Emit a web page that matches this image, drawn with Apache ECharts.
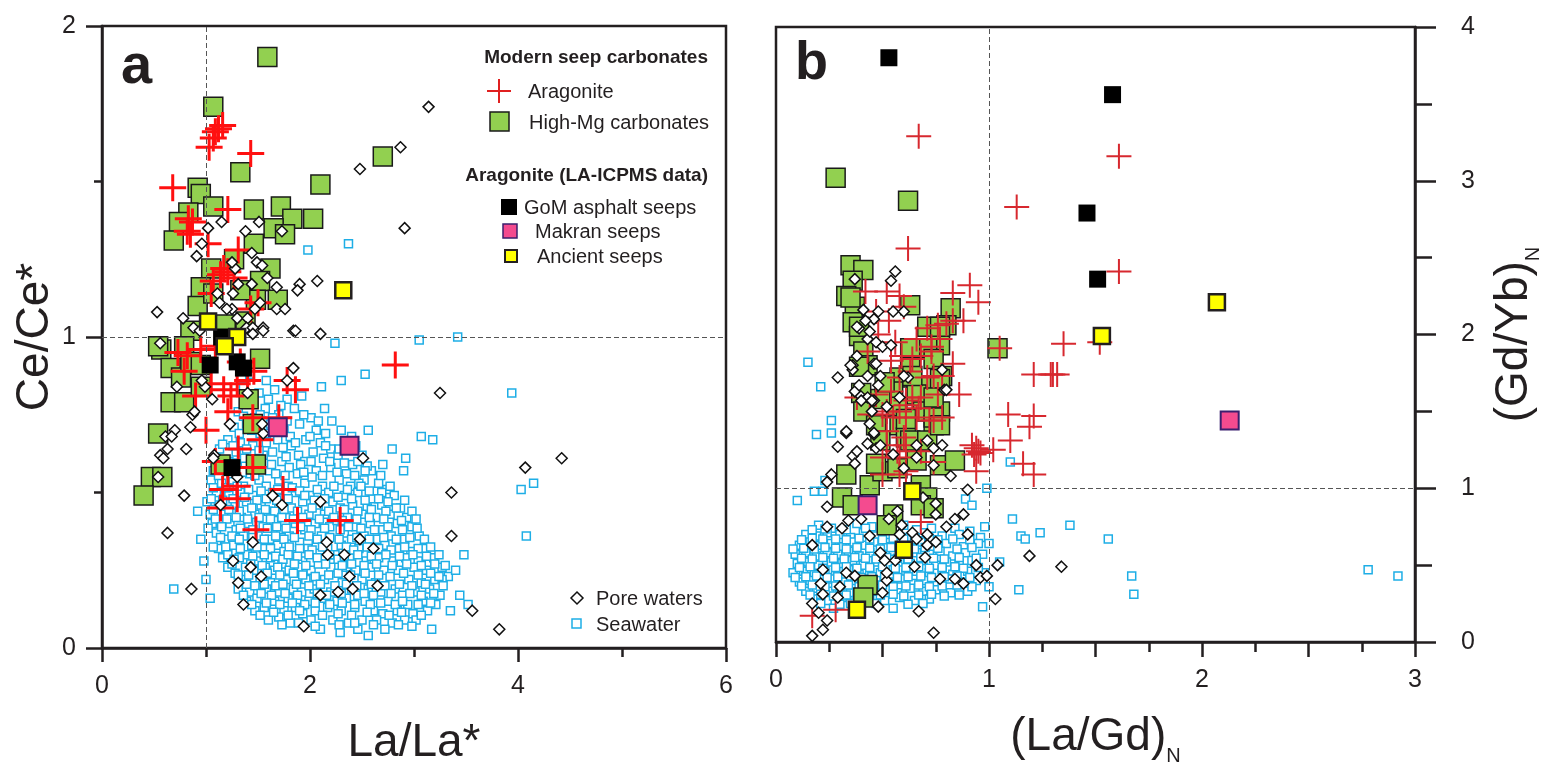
<!DOCTYPE html>
<html>
<head>
<meta charset="utf-8">
<title>Ce/Ce* vs La/La* and (Gd/Yb)N vs (La/Gd)N</title>
<script src="https://cdn.jsdelivr.net/npm/echarts@6/dist/echarts.min.js"></script>
<style>
  html, body { margin: 0; padding: 0; background: #fff; }
  #chart { width: 1545px; height: 771px; }
</style>
</head>
<body>
<div id="chart"></div>
<script>
// ---- panel a: La/La* (x) vs Ce/Ce* (y) ----
const seawaterA = [
  [1.42,0.88],[1.58,0.86],[1.36,0.84],[1.51,0.82],[1.66,0.83],[1.44,0.79],[1.78,0.80],[1.92,0.81],
  [1.31,0.76],[1.57,0.77],[1.70,0.75],[1.85,0.77],[2.01,0.74],[1.47,0.74],[2.14,0.77],
  [1.27,0.71],[1.39,0.72],[1.62,0.72],[1.75,0.70],[1.90,0.72],[2.06,0.70],[2.21,0.73],[1.52,0.69],[2.30,0.70],[2.56,0.70],
  [1.21,0.67],[1.33,0.66],[1.45,0.65],[1.58,0.66],[1.69,0.67],[1.82,0.65],[1.96,0.67],[2.10,0.66],[2.20,0.64],[2.35,0.66],
  [1.13,0.64],[1.29,0.63],[1.64,0.63],[1.89,0.62],[2.03,0.63],
  [1.10,0.61],[1.22,0.60],[1.37,0.61],[1.48,0.59],[1.55,0.62],[1.73,0.60],[1.80,0.58],[1.95,0.60],[2.13,0.61],[2.27,0.62],
  [2.41,0.59],[2.50,0.62],[1.07,0.57],[1.18,0.57],[1.30,0.58],[1.42,0.56],[1.61,0.57],[1.88,0.56],[2.06,0.57],[2.20,0.58],
  [2.35,0.56],[2.59,0.57],
  [1.05,0.54],[1.15,0.53],[1.26,0.54],[1.36,0.52],[1.51,0.54],[1.58,0.52],[1.70,0.54],[1.79,0.52],[1.95,0.53],[2.02,0.55],
  [2.12,0.52],[2.28,0.54],[2.39,0.52],[2.52,0.54],[2.66,0.53],[2.74,0.51],[1.10,0.50],[1.22,0.49],[1.33,0.50],[1.45,0.49],
  [1.64,0.50],[1.74,0.48],[1.86,0.50],[2.00,0.49],[2.18,0.50],[2.33,0.49],[2.46,0.50],[2.60,0.48],[2.81,0.49],
  [1.01,0.47],[1.12,0.46],[1.28,0.46],[1.39,0.47],[1.53,0.46],[1.60,0.44],[1.70,0.46],[1.82,0.45],[1.93,0.47],[2.08,0.46],
  [2.22,0.47],[2.29,0.45],[2.41,0.46],[2.55,0.45],[2.69,0.46],[2.87,0.45],[1.04,0.43],[1.17,0.43],[1.34,0.42],[1.47,0.43],
  [1.77,0.42],[1.99,0.43],[2.14,0.43],[2.36,0.42],[2.50,0.43],[2.63,0.42],[2.77,0.43],[2.93,0.42],
  [1.06,0.40],[1.23,0.40],[1.29,0.38],[1.41,0.40],[1.55,0.39],[1.65,0.41],[1.72,0.38],[1.86,0.40],[1.95,0.38],[2.05,0.40],
  [2.19,0.39],[2.26,0.41],[2.44,0.39],[2.58,0.40],[2.70,0.38],[2.84,0.40],[2.98,0.39],[1.10,0.37],[1.18,0.35],[1.36,0.36],
  [1.50,0.36],[1.61,0.35],[1.80,0.36],[1.90,0.34],[2.11,0.36],[2.33,0.37],[2.40,0.35],[2.52,0.36],[2.65,0.35],[2.78,0.36],
  [2.91,0.35],[3.05,0.36],
  [1.12,0.32],[1.26,0.33],[1.44,0.33],[1.55,0.32],[1.69,0.33],[1.75,0.31],[1.98,0.32],[2.06,0.33],[2.17,0.32],[2.24,0.30],
  [2.30,0.33],[2.47,0.32],[2.60,0.31],[2.72,0.33],[2.86,0.32],[2.97,0.31],[3.10,0.32],[1.16,0.29],[1.32,0.29],[1.40,0.30],
  [1.50,0.28],[1.62,0.29],[1.84,0.30],[1.93,0.28],[2.12,0.29],[2.38,0.29],[2.54,0.28],[2.66,0.29],[2.80,0.28],[2.92,0.29],
  [3.04,0.28],[3.19,0.29],
  [1.21,0.26],[1.28,0.24],[1.38,0.26],[1.46,0.25],[1.57,0.26],[1.66,0.25],[1.73,0.27],[1.80,0.25],[1.89,0.26],[2.01,0.25],
  [2.08,0.27],[2.20,0.26],[2.27,0.24],[2.35,0.26],[2.44,0.25],[2.58,0.26],[2.71,0.25],[2.77,0.23],[2.85,0.25],[3.00,0.26],
  [3.12,0.25],[3.27,0.26],[1.35,0.22],[1.52,0.22],[1.62,0.21],[1.77,0.22],[1.96,0.22],[2.14,0.22],[2.31,0.21],[2.50,0.22],
  [2.63,0.21],[2.95,0.22],[3.07,0.21],[3.20,0.22],[3.33,0.23],
  [1.31,0.19],[1.42,0.18],[1.58,0.19],[1.70,0.18],[1.84,0.19],[1.92,0.18],[2.04,0.19],[2.20,0.18],[2.40,0.19],[2.46,0.17],
  [2.56,0.19],[2.68,0.18],[2.82,0.19],[2.89,0.17],[3.01,0.18],[3.15,0.19],[3.25,0.17],[1.39,0.15],[1.49,0.16],[1.66,0.15],
  [1.79,0.16],[1.99,0.15],[2.11,0.16],[2.26,0.15],[2.35,0.16],[2.53,0.15],[2.75,0.15],[2.94,0.14],[3.09,0.15],[3.21,0.14],
  [1.47,0.12],[1.56,0.13],[1.75,0.12],[1.86,0.13],[1.93,0.11],[2.05,0.12],[2.17,0.13],[2.30,0.12],[2.43,0.13],[2.61,0.12],
  [2.70,0.11],[2.84,0.12],[2.99,0.11],[3.13,0.12],[1.60,0.09],[1.70,0.10],[1.81,0.08],[2.01,0.09],[2.22,0.09],[2.37,0.08],
  [2.50,0.09],[2.64,0.09],[2.79,0.08],[2.91,0.09],[3.02,0.09],
  [2.10,0.06],[2.29,0.05],[2.46,0.06],[2.56,0.04],[2.72,0.06],
  [0.69,0.19],[0.95,0.35],[0.92,0.44],[1.00,0.22],[1.04,0.16],[0.98,0.28],
  [1.98,1.28],[2.37,1.30],[2.24,0.98],[3.05,0.99],[3.42,1.00],[2.53,0.88],[2.30,0.86],[2.11,0.84],[3.94,0.82],
  [3.07,0.68],[3.18,0.67],[2.92,0.61],[2.90,0.57],[4.03,0.51],[4.15,0.53],[4.08,0.36],[3.48,0.30],[3.44,0.17],
  [3.52,0.14],[3.17,0.06],[3.27,0.22],[2.79,0.64],[2.70,0.59],[2.47,0.53],[3.40,0.25],[3.35,0.12],
  // in-between readings of the dense cloud
  [1.38,0.80],[1.60,0.80],[1.72,0.78],
  [1.36,0.745],[1.52,0.75],[1.64,0.74],[1.78,0.73],[1.94,0.75],[2.08,0.73],
  [1.32,0.69],[1.44,0.70],[1.58,0.69],[1.68,0.70],[1.81,0.68],[2.00,0.68],[2.15,0.69],[2.40,0.68],
  [1.16,0.655],[1.26,0.65],[1.39,0.64],[1.51,0.635],[1.74,0.645],[1.86,0.66],[2.15,0.65],[2.28,0.64],[2.44,0.65],
  [1.14,0.59],[1.27,0.595],[1.43,0.60],[1.63,0.59],[1.77,0.615],[1.91,0.59],[2.01,0.60],[2.19,0.60],[2.33,0.595],
  [2.46,0.60],[2.55,0.585],
  [1.12,0.555],[1.24,0.56],[1.35,0.565],[1.47,0.555],[1.67,0.56],[1.76,0.555],[1.94,0.565],[2.12,0.555],[2.26,0.565],
  [2.43,0.555],[2.53,0.57],[2.68,0.555],
  [1.07,0.515],[1.19,0.515],[1.30,0.52],[1.41,0.51],[1.53,0.505],[1.69,0.51],[1.83,0.515],[1.90,0.505],[2.07,0.51],
  [2.23,0.52],[2.36,0.51],[2.49,0.52],[2.57,0.505],[2.69,0.50],[2.77,0.52],
  [1.05,0.48],[1.16,0.475],[1.26,0.48],[1.37,0.485],[1.49,0.475],[1.58,0.48],[1.68,0.475],[1.79,0.48],[1.95,0.49],
  [2.04,0.475],[2.14,0.48],[2.27,0.485],[2.40,0.48],[2.53,0.475],[2.66,0.48],[2.75,0.47],[2.91,0.475],
  [1.07,0.445],[1.22,0.445],[1.32,0.44],[1.44,0.45],[1.57,0.445],[1.66,0.44],[1.75,0.445],[1.88,0.44],[2.02,0.45],
  [2.18,0.44],[2.33,0.445],[2.46,0.44],[2.59,0.445],[2.73,0.44],[2.83,0.45],[2.98,0.44],
  [1.09,0.415],[1.20,0.415],[1.29,0.42],[1.40,0.415],[1.51,0.42],[1.62,0.415],[1.73,0.42],[1.84,0.415],[1.93,0.42],
  [2.09,0.415],[2.23,0.42],[2.31,0.41],[2.45,0.415],[2.57,0.42],[2.71,0.415],[2.88,0.41],[3.02,0.415],
  [1.02,0.385],[1.15,0.39],[1.33,0.385],[1.45,0.38],[1.59,0.385],[1.68,0.39],[1.77,0.385],[1.91,0.39],[2.01,0.38],
  [2.14,0.385],[2.29,0.38],[2.37,0.39],[2.49,0.385],[2.62,0.38],[2.75,0.39],[2.89,0.38],[3.03,0.385],
  [1.14,0.355],[1.25,0.36],[1.32,0.35],[1.45,0.355],[1.56,0.35],[1.67,0.36],[1.75,0.35],[1.85,0.355],[1.99,0.36],
  [2.07,0.35],[2.19,0.355],[2.28,0.35],[2.45,0.355],[2.57,0.35],[2.71,0.355],[2.83,0.35],[2.96,0.355],[3.10,0.35],
  [1.07,0.325],[1.19,0.325],[1.33,0.32],[1.49,0.325],[1.62,0.32],[1.80,0.325],[1.90,0.32],[2.02,0.315],[2.12,0.325],
  [2.35,0.325],[2.42,0.315],[2.55,0.325],[2.66,0.32],[2.78,0.315],[2.91,0.325],[3.04,0.32],[3.16,0.325],
  [1.21,0.30],[1.27,0.285],[1.45,0.295],[1.56,0.30],[1.67,0.295],[1.74,0.285],[1.79,0.30],[1.88,0.295],[1.99,0.30],
  [2.07,0.29],[2.19,0.30],[2.27,0.285],[2.33,0.295],[2.46,0.30],[2.59,0.295],[2.73,0.30],[2.86,0.295],[2.99,0.30],
  [3.12,0.295],[3.24,0.30],
  [1.25,0.27],[1.43,0.27],[1.54,0.265],[1.69,0.26],[1.85,0.27],[1.96,0.265],[2.15,0.27],[2.31,0.265],[2.40,0.27],
  [2.52,0.265],[2.64,0.27],[2.79,0.265],[2.93,0.27],[3.07,0.265],[3.20,0.27],[3.30,0.265],
  [1.31,0.235],[1.41,0.235],[1.59,0.24],[1.71,0.235],[1.84,0.24],[1.93,0.235],[2.05,0.23],[2.18,0.235],[2.39,0.235],
  [2.53,0.24],[2.66,0.235],[2.90,0.24],[3.04,0.235],[3.16,0.24],[3.24,0.23],
  [1.39,0.205],[1.47,0.20],[1.56,0.205],[1.67,0.20],[1.74,0.205],[1.87,0.205],[1.99,0.20],[2.10,0.205],[2.24,0.20],
  [2.35,0.205],[2.45,0.20],[2.59,0.205],[2.72,0.20],[2.86,0.205],[2.98,0.20],[3.11,0.205],[3.28,0.20],
  [1.36,0.17],[1.53,0.175],[1.63,0.17],[1.76,0.175],[1.88,0.17],[2.07,0.175],[2.16,0.17],[2.30,0.175],[2.52,0.175],
  [2.61,0.17],[2.78,0.175],[2.96,0.175],[3.07,0.17],[3.19,0.175],
  [1.44,0.14],[1.58,0.145],[1.71,0.14],[1.83,0.145],[1.95,0.14],[2.05,0.145],[2.19,0.14],[2.31,0.145],[2.43,0.14],
  [2.58,0.14],[2.68,0.145],[2.82,0.14],[2.89,0.15],[3.04,0.14],[3.16,0.145],
  [1.52,0.105],[1.65,0.115],[1.79,0.105],[1.90,0.12],[2.12,0.105],[2.27,0.11],[2.40,0.105],[2.55,0.115],[2.76,0.105],
  [2.88,0.115],[3.07,0.105],
  [1.73,0.075],[1.89,0.08],[2.05,0.07],[2.28,0.075],[2.43,0.08],[2.61,0.075],[2.85,0.075],[2.98,0.07]
];

const poreA = [
  [3.14,1.74],[2.87,1.61],[2.48,1.54],[2.91,1.35],[3.25,0.82],[4.42,0.61],[4.07,0.58],[3.36,0.50],[3.36,0.36],
  [3.56,0.12],[3.82,0.06],[0.53,1.08],[0.56,0.98],[1.84,1.02],[2.10,1.01],[1.84,0.90],[1.78,0.86],[0.72,0.84],
  [0.99,0.84],[1.06,0.80],[0.87,0.75],[0.89,0.76],[0.85,0.71],[0.70,0.70],[0.61,0.68],[0.67,0.68],[0.63,0.64],
  [0.56,0.62],[0.59,0.61],[0.81,0.64],[0.54,0.55],[0.79,0.49],[1.08,0.62],[1.30,0.55],[1.55,0.69],[1.54,0.72],
  [1.40,0.82],[2.51,0.61],[0.63,0.37],[1.14,0.46],[1.64,0.49],[1.73,0.46],[2.10,0.47],[1.45,0.34],[2.16,0.34],
  [2.48,0.35],[2.61,0.32],[2.17,0.30],[2.33,0.30],[1.26,0.28],[1.43,0.26],[1.53,0.23],[1.31,0.21],[2.38,0.23],
  [2.10,0.17],[2.27,0.18],[2.41,0.19],[2.65,0.20],[0.86,0.19],[1.36,0.14],[1.94,0.07],
  [1.15,1.37],[1.38,1.34],[1.51,1.37],[1.73,1.34],[1.02,1.35],[0.96,1.30],[0.91,1.26],[1.44,1.27],[1.49,1.24],
  [1.54,1.23],[1.59,1.19],[1.68,1.16],[1.28,1.22],[1.25,1.24],[1.31,1.17],[1.44,1.17],[1.47,1.09],[1.52,1.11],
  [1.68,1.09],[1.76,1.09],[1.90,1.17],[2.07,1.18],[1.88,1.15],[1.86,1.02],[0.78,1.06],[1.26,1.14],[1.25,1.09],
  [1.30,1.06],[1.40,1.06],[1.55,1.03],[1.11,1.14],[1.13,1.11],[1.20,1.09],[1.39,1.03],[1.45,1.03],[0.88,1.03],
  [0.94,1.02],[0.96,0.86],[1.23,0.72],[1.07,0.61],[1.45,1.01],[1.55,1.02]
];

const highMgA = [
  [1.59,1.90],[1.07,1.74],[1.33,1.53],[2.10,1.49],[2.70,1.58],[0.92,1.48],[0.95,1.46],[1.07,1.42],[0.83,1.40],
  [0.74,1.37],[0.69,1.31],[1.46,1.41],[1.72,1.42],[1.83,1.38],[2.03,1.38],[1.65,1.35],[1.76,1.33],[1.46,1.30],
  [1.62,1.22],[1.27,1.25],[1.05,1.22],[0.95,1.16],[1.52,1.18],[1.69,1.12],[0.92,1.10],[1.07,1.14],
  [1.19,1.04],[1.38,1.05],[0.85,1.02],[1.48,1.12],[1.33,1.15],
  [0.57,0.96],[0.66,0.90],[0.76,0.87],[0.54,0.97],[0.79,0.97],[0.85,0.92],[0.95,0.91],[1.52,0.93],[0.66,0.79],
  [0.79,0.79],[0.95,0.84],[1.41,0.80],[1.45,0.72],[0.54,0.69],[0.47,0.55],[0.58,0.55],[0.40,0.49],[1.14,0.59],
  [1.48,0.59]
];

const aragoniteA = [
  [1.12,1.67],[1.16,1.68],[1.09,1.66],[1.07,1.64],[1.03,1.61],[1.43,1.59],[0.68,1.48],[0.83,1.38],[0.87,1.37],
  [0.82,1.34],[0.85,1.33],[1.21,1.41],[1.02,1.30],[1.31,1.28],[1.17,1.22],[1.14,1.20],[1.07,1.18],[1.21,1.21],
  [1.27,1.19],[1.05,1.14],[1.50,1.11],[1.43,1.09],[2.82,0.91],[1.86,0.83],[1.78,0.86],[1.74,0.51],[1.88,0.41],
  [2.29,0.41],[1.48,0.38],[1.14,0.45],[1.30,0.48],[1.31,0.64],[1.52,0.67],[1.45,0.58],[0.79,0.89],[0.73,0.95],
  [0.82,0.94],[1.05,0.85],[1.17,0.83],[1.21,0.76],[1.24,0.81],[1.30,0.85],[1.40,0.86],[1.46,0.89],[1.45,0.74],
  [1.70,0.74],[1.21,0.56],[1.30,0.52],[0.95,0.96],[1.09,0.97],[1.33,0.92],[0.90,0.81],[1.00,0.70],[1.09,0.60],
  [1.16,0.51]
];

const gomA = [[1.04,0.91],[1.30,0.92],[1.25,0.58],[1.15,1.00],[1.36,0.90]];
const makranA = [[1.69,0.71],[2.38,0.65]];
const ancientA = [[1.02,1.05],[1.30,1.00],[1.18,0.97],[2.32,1.15]];

// ---- panel b: (La/Gd)N (x) vs (Gd/Yb)N (y) ----
const seawaterB = [
  [0.20,0.76],[0.26,0.74],[0.38,0.77],[0.45,0.75],[0.60,0.76],[0.84,0.74],
  [0.14,0.70],[0.19,0.69],[0.24,0.71],[0.30,0.70],[0.35,0.68],[0.41,0.71],[0.47,0.69],[0.53,0.70],[0.62,0.68],
  [0.69,0.71],[0.78,0.69],[0.86,0.70],[0.96,0.68],
  [0.11,0.63],[0.16,0.65],[0.21,0.63],[0.26,0.64],[0.31,0.62],[0.36,0.65],[0.42,0.63],[0.46,0.65],[0.52,0.62],
  [0.57,0.64],[0.63,0.62],[0.68,0.65],[0.74,0.62],[0.80,0.64],[0.88,0.62],[0.95,0.64],
  [0.09,0.57],[0.14,0.58],[0.19,0.56],[0.24,0.58],[0.29,0.57],[0.34,0.59],[0.39,0.56],[0.44,0.58],[0.50,0.57],
  [0.55,0.59],[0.60,0.56],[0.66,0.58],[0.72,0.57],[0.77,0.59],[0.83,0.56],[0.89,0.58],[0.97,0.57],
  [0.10,0.51],[0.15,0.52],[0.20,0.50],[0.26,0.52],[0.31,0.51],[0.36,0.53],[0.41,0.50],[0.47,0.52],[0.53,0.50],
  [0.58,0.52],[0.63,0.51],[0.69,0.53],[0.75,0.50],[0.80,0.52],[0.86,0.51],[0.92,0.53],
  [0.08,0.45],[0.13,0.46],[0.18,0.44],[0.23,0.46],[0.28,0.45],[0.34,0.47],[0.39,0.44],[0.44,0.46],[0.49,0.45],
  [0.55,0.47],[0.61,0.44],[0.66,0.46],[0.72,0.45],[0.78,0.47],[0.83,0.44],[0.90,0.46],[0.98,0.45],
  [0.11,0.39],[0.16,0.40],[0.21,0.38],[0.26,0.41],[0.32,0.39],[0.37,0.40],[0.42,0.38],[0.47,0.40],[0.53,0.39],
  [0.59,0.41],[0.64,0.38],[0.70,0.40],[0.75,0.39],[0.81,0.41],[0.87,0.39],[0.94,0.40],
  [0.14,0.33],[0.19,0.35],[0.25,0.33],[0.30,0.34],[0.35,0.32],[0.40,0.35],[0.46,0.33],[0.52,0.34],[0.57,0.32],
  [0.63,0.35],[0.69,0.33],[0.75,0.34],[0.82,0.32],[0.90,0.33],
  [0.18,0.28],[0.24,0.27],[0.31,0.29],[0.37,0.27],[0.44,0.28],[0.51,0.27],[0.58,0.29],[0.65,0.27],[0.72,0.28],
  [0.27,0.22],[0.40,0.21],[0.55,0.22],
  [0.15,1.82],[0.21,1.66],[0.26,1.44],[0.19,1.35],[0.26,1.36],[0.23,1.05],[0.18,0.98],[0.22,0.98],[0.99,1.00],
  [1.10,1.17],[0.89,0.93],[0.92,0.89],[1.11,0.80],[1.38,0.76],[1.56,0.67],[1.24,0.71],[1.15,0.69],[1.17,0.67],
  [1.00,0.64],[0.98,0.75],[1.05,0.52],[1.00,0.36],[0.97,0.23],[1.14,0.34],[1.67,0.43],[1.68,0.31],[2.78,0.47],
  [2.92,0.43],[0.10,0.92],
  // in-between readings of the dense cloud
  [0.17,0.73],[0.23,0.735],[0.33,0.73],[0.42,0.74],[0.51,0.73],[0.56,0.745],[0.66,0.73],[0.73,0.74],[0.91,0.72],
  [0.12,0.665],[0.17,0.675],[0.22,0.67],[0.28,0.67],[0.33,0.665],[0.39,0.675],[0.44,0.67],[0.50,0.665],[0.55,0.675],
  [0.60,0.67],[0.65,0.665],[0.72,0.675],[0.76,0.665],[0.83,0.67],[0.91,0.665],
  [0.08,0.605],[0.13,0.61],[0.18,0.605],[0.23,0.615],[0.28,0.61],[0.33,0.605],[0.38,0.615],[0.44,0.61],[0.49,0.605],
  [0.54,0.615],[0.60,0.61],[0.65,0.605],[0.70,0.615],[0.76,0.61],[0.85,0.605],[0.92,0.615],
  [0.12,0.545],[0.17,0.54],[0.22,0.55],[0.27,0.545],[0.32,0.54],[0.37,0.55],[0.42,0.545],[0.47,0.54],[0.52,0.55],
  [0.57,0.545],[0.62,0.54],[0.68,0.55],[0.74,0.545],[0.79,0.54],[0.86,0.55],[0.94,0.545],
  [0.11,0.485],[0.16,0.49],[0.22,0.48],[0.28,0.485],[0.33,0.49],[0.38,0.48],[0.44,0.485],[0.50,0.49],[0.56,0.48],
  [0.61,0.485],[0.67,0.49],[0.72,0.48],[0.78,0.485],[0.84,0.49],[0.88,0.48],[0.95,0.485],
  [0.09,0.42],[0.14,0.425],[0.19,0.43],[0.24,0.42],[0.29,0.425],[0.35,0.43],[0.40,0.42],[0.45,0.425],[0.51,0.43],
  [0.57,0.42],[0.62,0.425],[0.68,0.43],[0.73,0.42],[0.79,0.425],[0.85,0.43],[0.91,0.42],
  [0.12,0.365],[0.17,0.37],[0.23,0.36],[0.28,0.365],[0.34,0.37],[0.39,0.36],[0.44,0.365],[0.50,0.37],[0.55,0.36],
  [0.61,0.365],[0.67,0.37],[0.72,0.36],[0.78,0.365],[0.85,0.37],[0.92,0.36],
  [0.16,0.305],[0.21,0.31],[0.27,0.30],[0.33,0.305],[0.38,0.31],[0.43,0.30],[0.49,0.305],[0.55,0.31],[0.60,0.30],
  [0.67,0.305],[0.73,0.31],[0.79,0.30],[0.86,0.305],
  [0.21,0.25],[0.30,0.245],[0.35,0.25],[0.47,0.25],[0.62,0.245],[0.69,0.25]
];

const poreB = [
  [0.29,1.72],[0.33,1.36],[0.29,1.27],[0.36,1.21],[0.38,1.24],[0.37,1.16],[0.26,1.09],[0.24,1.04],[0.24,0.88],
  [0.24,0.75],[0.31,0.74],[0.34,0.79],[0.17,0.63],[0.22,0.47],[0.21,0.38],[0.22,0.31],[0.30,0.36],[0.33,0.45],
  [0.37,0.43],[0.29,0.29],[0.17,0.25],[0.20,0.19],[0.24,0.14],[0.22,0.08],[0.17,0.04],[0.48,0.23],[0.67,0.20],
  [0.74,0.06],[0.50,0.32],[0.52,0.40],[0.52,0.45],[0.49,0.58],[0.51,0.53],[0.44,0.69],[0.40,0.80],[0.53,0.80],
  [0.57,0.85],[0.59,0.76],[0.58,0.70],[0.64,0.71],[0.66,0.67],[0.71,0.63],[0.70,0.55],[0.71,0.70],[0.75,0.65],
  [0.65,0.49],[0.56,0.53],[0.77,0.41],[0.84,0.41],[0.88,0.38],[0.94,0.50],[0.96,0.42],[0.99,0.43],[1.04,0.50],
  [1.03,0.28],[1.19,0.56],[1.34,0.49],[0.90,0.70],[0.80,0.75],[0.88,0.83],[0.84,0.80],[0.75,0.83],[0.75,0.90],
  [0.69,0.94],[0.90,0.99],[0.82,1.08],[0.74,1.15],[0.78,1.28],[0.74,1.26],[0.71,1.31],[0.66,1.20],[0.60,1.13],
  [0.55,1.22],[0.47,1.26],[0.46,1.35],[0.44,1.42],[0.49,1.28],[0.43,1.59],[0.46,1.57],[0.39,1.61],[0.37,1.63],
  [0.36,1.80],[0.36,1.77],[0.39,1.67],[0.43,1.73],[0.46,1.81],[0.47,1.95],[0.43,1.97],[0.44,2.02],[0.39,2.04],
  [0.46,2.10],[0.48,2.15],[0.55,2.15],[0.60,2.15],[0.62,1.72],[0.78,1.77],[0.79,1.64],[0.56,2.41],[0.54,2.35],
  [0.37,2.36],[0.41,2.16],[0.42,2.09],[0.38,2.05],[0.50,1.92],[0.54,1.93],[0.38,1.86],[0.47,1.81],[0.35,1.80],
  [0.49,1.73],[0.60,1.73],[0.48,1.67],[0.40,1.57],[0.45,1.57],[0.45,1.50],[0.52,1.53],[0.58,1.59],[0.80,1.64],
  [0.46,1.36],[0.33,1.37],[0.43,1.29],[0.66,1.28]
];

const highMgB = [
  [0.28,3.02],[0.62,2.87],[1.04,1.91],
  [0.35,2.45],[0.41,2.42],[0.36,2.35],[0.33,2.25],[0.37,2.18],[0.36,2.08],[0.39,1.99],[0.41,1.89],[0.43,1.80],
  [0.40,1.62],[0.41,1.50],[0.47,1.41],[0.49,1.31],
  [0.63,2.19],[0.82,2.17],[0.80,2.06],[0.77,1.93],[0.71,1.91],[0.74,1.84],[0.63,1.78],[0.58,1.72],[0.78,1.73],
  [0.72,1.67],[0.55,1.63],[0.66,1.61],[0.57,1.53],[0.69,1.50],[0.77,1.50],[0.49,1.58],[0.58,1.41],[0.74,1.41],
  [0.61,1.33],[0.51,1.69],
  [0.33,1.09],[0.31,0.94],[0.36,0.89],[0.44,1.02],[0.50,1.11],[0.57,1.13],[0.66,1.18],[0.77,1.15],[0.63,1.31],
  [0.71,1.31],[0.74,1.46],[0.77,1.41],[0.47,1.16],[0.68,1.02],[0.71,0.94],[0.68,0.89],[0.55,0.83],[0.52,0.76],
  [0.74,0.87],[0.43,0.37],[0.41,0.29],[0.39,1.79],[0.39,2.05],[0.35,2.24],[0.71,2.05],[0.77,2.05],[0.63,1.91],
  [0.64,1.73],[0.77,1.71],[0.74,1.59],[0.84,1.18],[0.61,1.45]
];

const aragoniteB = [
  [0.67,3.29],[1.61,3.16],[1.13,2.83],[0.62,2.56],[1.61,2.41],[1.35,1.94],[1.52,1.95],[1.21,1.74],[1.29,1.74],
  [1.30,1.74],[1.32,1.74],[1.09,1.48],[1.21,1.47],[1.19,1.40],[1.10,1.31],[1.02,1.25],[0.94,1.26],[0.93,1.22],
  [0.96,1.23],[1.16,1.16],[1.21,1.09],[0.94,1.11],[1.05,1.91],[0.86,1.61],[0.95,2.21],[0.68,0.78],[0.17,0.17],
  [0.28,0.21],[0.91,2.32],[0.83,2.27],[0.88,2.09],
  [0.42,2.28],[0.52,2.28],[0.58,2.25],[0.47,2.15],[0.53,2.09],[0.60,2.18],[0.71,2.04],[0.76,2.06],[0.80,2.07],
  [0.83,2.09],[0.77,1.97],[0.66,1.97],[0.59,1.86],[0.64,1.84],[0.68,1.86],[0.73,1.89],[0.43,1.89],[0.54,1.83],
  [0.78,1.73],[0.71,1.72],[0.63,1.76],[0.58,1.72],[0.54,1.63],[0.47,1.61],[0.61,1.57],[0.68,1.59],[0.76,1.61],
  [0.50,1.48],[0.58,1.50],[0.66,1.46],[0.72,1.44],[0.78,1.46],[0.52,1.37],[0.60,1.33],[0.57,1.24],[0.68,1.24],
  [0.92,1.28],[0.95,1.24],[0.73,1.92],[0.83,1.81],[0.74,1.73],[0.64,1.59],[0.61,1.54],[0.67,1.52],[0.74,1.44],
  [0.52,1.50],[0.55,1.46],[0.61,1.46],[0.52,1.28],[0.61,1.28],[0.50,1.20],[0.58,1.20],[0.74,1.17],[0.61,1.11],
  [0.50,1.09],[0.58,1.09],[0.38,1.59],[0.44,1.48],[0.48,2.00],[0.56,1.95]
];

const gomB = [[0.53,3.80],[1.58,3.56],[1.46,2.79],[1.51,2.36]];
const makranB = [[0.43,0.89],[2.13,1.44]];
const ancientB = [[1.53,1.99],[2.07,2.21],[0.64,0.98],[0.60,0.60],[0.38,0.21]];

// reference lines (value = 1 on both axes of each panel)
const refLinesA = [{ xAxis: 1 }, { yAxis: 1 }];
const refLinesB = [{ xAxis: 1 }, { yAxis: 1 }];

const INK = '#231f20';
const FONT = '"Liberation Sans", Arial, sans-serif';
const CROSS = 'path://M10,0L10,20M0,10L20,10';

const chart = echarts.init(document.getElementById('chart'));

// common axis look
function axisBase(opts) {
  return Object.assign({
    splitLine: { show: false },
    axisLine: { show: true, onZero: false, lineStyle: { color: INK, width: 2.5 } },
    axisTick: { show: true, inside: false, length: 15, lineStyle: { color: INK, width: 2.5 } },
    minorTick: { show: true, splitNumber: 2, length: 9, lineStyle: { color: INK, width: 2.5 } },
    minorSplitLine: { show: false },
    axisLabel: { color: INK, fontSize: 25, fontFamily: FONT },
    nameTextStyle: { color: INK, fontSize: 46, fontFamily: FONT },
    nameLocation: 'middle'
  }, opts);
}

function refSeries(xi, yi, lines) {
  return {
    type: 'scatter', xAxisIndex: xi, yAxisIndex: yi, data: [], z: 1, silent: true,
    markLine: {
      silent: true, symbol: 'none', animation: false,
      label: { show: false },
      lineStyle: { color: '#555', width: 1, type: [5, 3] },
      data: lines
    }
  };
}

function panelSeries(xi, yi, d, crossWidth, crossColor, crossSize) {
  return [
    refSeries(xi, yi, d.lines),
    { name: 'Seawater', type: 'scatter', xAxisIndex: xi, yAxisIndex: yi, data: d.sea, z: 2,
      symbol: 'rect', symbolSize: 8,
      itemStyle: { color: '#fff', borderColor: '#1eaee6', borderWidth: 1.5, opacity: 1 } },
    { name: 'High-Mg carbonates', type: 'scatter', xAxisIndex: xi, yAxisIndex: yi, data: d.mg, z: 3,
      symbol: 'rect', symbolSize: 19,
      itemStyle: { color: '#92d050', borderColor: '#1a1a1a', borderWidth: 1.5, opacity: 1 } },
    { name: 'Aragonite', type: 'scatter', xAxisIndex: xi, yAxisIndex: yi, data: d.arag, z: 4,
      symbol: CROSS, symbolSize: crossSize,
      itemStyle: { color: 'transparent', borderColor: crossColor, borderWidth: crossWidth, opacity: 1 } },
    { name: 'Pore waters', type: 'scatter', xAxisIndex: xi, yAxisIndex: yi, data: d.pore, z: 5,
      symbol: 'diamond', symbolSize: 11,
      itemStyle: { color: '#fff', borderColor: '#111', borderWidth: 1.5, opacity: 1 } },
    { name: 'GoM asphalt seeps', type: 'scatter', xAxisIndex: xi, yAxisIndex: yi, data: d.gom, z: 6,
      symbol: 'rect', symbolSize: 17,
      itemStyle: { color: '#000', opacity: 1 } },
    { name: 'Makran seeps', type: 'scatter', xAxisIndex: xi, yAxisIndex: yi, data: d.makran, z: 7,
      symbol: 'rect', symbolSize: 18,
      itemStyle: { color: '#f44b8f', borderColor: '#3b1f6e', borderWidth: 2, opacity: 1 } },
    { name: 'Ancient seeps', type: 'scatter', xAxisIndex: xi, yAxisIndex: yi, data: d.ancient, z: 8,
      symbol: 'rect', symbolSize: 16,
      itemStyle: { color: '#ffff00', borderColor: INK, borderWidth: 2.5, opacity: 1 } }
  ];
}

const legendText = { fill: INK, fontSize: 20, fontFamily: FONT, verticalAlign: 'middle' };
const legendTitle = { fill: INK, fontSize: 19, fontWeight: 'bold', fontFamily: FONT, verticalAlign: 'middle', align: 'right' };

const option = {
  animation: false,
  backgroundColor: '#fff',
  grid: [
    { left: 102, top: 26, width: 624, height: 622, show: true, borderColor: INK, borderWidth: 2.5 },
    { left: 776, top: 27, width: 639, height: 618, show: true, borderColor: INK, borderWidth: 2.5 }
  ],
  xAxis: [
    axisBase({ gridIndex: 0, type: 'value', min: 0, max: 6, interval: 2,
      axisTick: { show: true, length: 14, lineStyle: { color: INK, width: 2.5 } },
      axisLabel: { color: INK, fontSize: 25, fontFamily: FONT, margin: 26 },
      name: 'La/La*', nameGap: 72 }),
    axisBase({ gridIndex: 1, type: 'value', min: 0, max: 3, interval: 0.5,
      axisTick: { show: true, length: 15, lineStyle: { color: INK, width: 2.5 } },
      minorTick: { show: true, splitNumber: 2, length: 10, lineStyle: { color: INK, width: 2.5 } },
      axisLabel: { color: INK, fontSize: 25, fontFamily: FONT, margin: 26,
        formatter: v => (Math.abs(v - Math.round(v)) < 1e-6 ? String(Math.round(v)) : '') },
      name: '(La/Gd){sub|N}', nameGap: 72,
      nameTextStyle: { color: INK, fontSize: 46, fontFamily: FONT,
        rich: { sub: { fontSize: 20, fontFamily: FONT, color: INK, verticalAlign: 'bottom', padding: [0, 0, -6, 0] } } } })
  ],
  yAxis: [
    axisBase({ gridIndex: 0, type: 'value', min: 0, max: 2, interval: 1,
      axisTick: { show: true, length: 16, lineStyle: { color: INK, width: 2.5 } },
      minorTick: { show: true, splitNumber: 2, length: 8, lineStyle: { color: INK, width: 2.5 } },
      axisLabel: { color: INK, fontSize: 25, fontFamily: FONT, margin: 26 },
      name: 'Ce/Ce*', nameGap: 40, nameRotate: 90 }),
    axisBase({ gridIndex: 1, type: 'value', position: 'right', min: 0, max: 4, interval: 1,
      axisTick: { show: true, length: 21, lineStyle: { color: INK, width: 2.5 } },
      minorTick: { show: true, splitNumber: 2, length: 17, lineStyle: { color: INK, width: 2.5 } },
      axisLabel: { color: INK, fontSize: 25, fontFamily: FONT, margin: 46 },
      name: '(Gd/Yb){sub|N}', nameGap: 76, nameRotate: 90,
      nameTextStyle: { color: INK, fontSize: 46, fontFamily: FONT,
        rich: { sub: { fontSize: 20, fontFamily: FONT, color: INK, verticalAlign: 'bottom', padding: [0, 0, -6, 0] } } } })
  ],
  series: [].concat(
    panelSeries(0, 0, { lines: refLinesA, sea: seawaterA, mg: highMgA, arag: aragoniteA, pore: poreA,
      gom: gomA, makran: makranA, ancient: ancientA }, 3, '#ff1010', 27),
    panelSeries(1, 1, { lines: refLinesB, sea: seawaterB, mg: highMgB, arag: aragoniteB, pore: poreB,
      gom: gomB, makran: makranB, ancient: ancientB }, 2, '#d7282f', 25)
  ),
  graphic: [
    // panel letters
    { type: 'text', left: 121, top: 40, z: 20, style: { text: 'a', fill: INK, fontSize: 56, fontWeight: 'bold', fontFamily: FONT } },
    { type: 'text', left: 795, top: 37, z: 20, style: { text: 'b', fill: INK, fontSize: 54, fontWeight: 'bold', fontFamily: FONT } },
    // legend, panel a
    { type: 'text', x: 708, y: 58, z: 20, style: Object.assign({ text: 'Modern seep carbonates' }, legendTitle) },
    { type: 'line', z: 20, shape: { x1: 487, y1: 91, x2: 511, y2: 91 }, style: { stroke: '#e02020', lineWidth: 2 } },
    { type: 'line', z: 20, shape: { x1: 499, y1: 79, x2: 499, y2: 103 }, style: { stroke: '#e02020', lineWidth: 2 } },
    { type: 'text', x: 528, y: 92, z: 20, style: Object.assign({ text: 'Aragonite' }, legendText) },
    { type: 'rect', z: 20, shape: { x: 490, y: 112, width: 19, height: 19 }, style: { fill: '#92d050', stroke: '#1a1a1a', lineWidth: 1.5 } },
    { type: 'text', x: 529, y: 123, z: 20, style: Object.assign({ text: 'High-Mg carbonates' }, legendText) },
    { type: 'text', x: 708, y: 176, z: 20, style: Object.assign({ text: 'Aragonite (LA-ICPMS data)' }, legendTitle) },
    { type: 'rect', z: 20, shape: { x: 501, y: 199, width: 16, height: 16 }, style: { fill: '#000' } },
    { type: 'text', x: 524, y: 208, z: 20, style: Object.assign({ text: 'GoM asphalt seeps' }, legendText) },
    { type: 'rect', z: 20, shape: { x: 503, y: 224, width: 14, height: 14 }, style: { fill: '#f44b8f', stroke: '#3b1f6e', lineWidth: 1.5 } },
    { type: 'text', x: 535, y: 232, z: 20, style: Object.assign({ text: 'Makran seeps' }, legendText) },
    { type: 'rect', z: 20, shape: { x: 505, y: 250, width: 12, height: 12 }, style: { fill: '#ffff00', stroke: INK, lineWidth: 2 } },
    { type: 'text', x: 537, y: 257, z: 20, style: Object.assign({ text: 'Ancient seeps' }, legendText) },
    { type: 'polygon', z: 20, shape: { points: [[577, 592], [583, 598], [577, 604], [571, 598]] }, style: { fill: '#fff', stroke: '#111', lineWidth: 1.5 } },
    { type: 'text', x: 596, y: 599, z: 20, style: Object.assign({ text: 'Pore waters' }, legendText) },
    { type: 'rect', z: 20, shape: { x: 572, y: 619, width: 9, height: 9 }, style: { fill: '#fff', stroke: '#1eaee6', lineWidth: 1.5 } },
    { type: 'text', x: 596, y: 625, z: 20, style: Object.assign({ text: 'Seawater' }, legendText) }
  ]
};

chart.setOption(option);
</script>
</body>
</html>
